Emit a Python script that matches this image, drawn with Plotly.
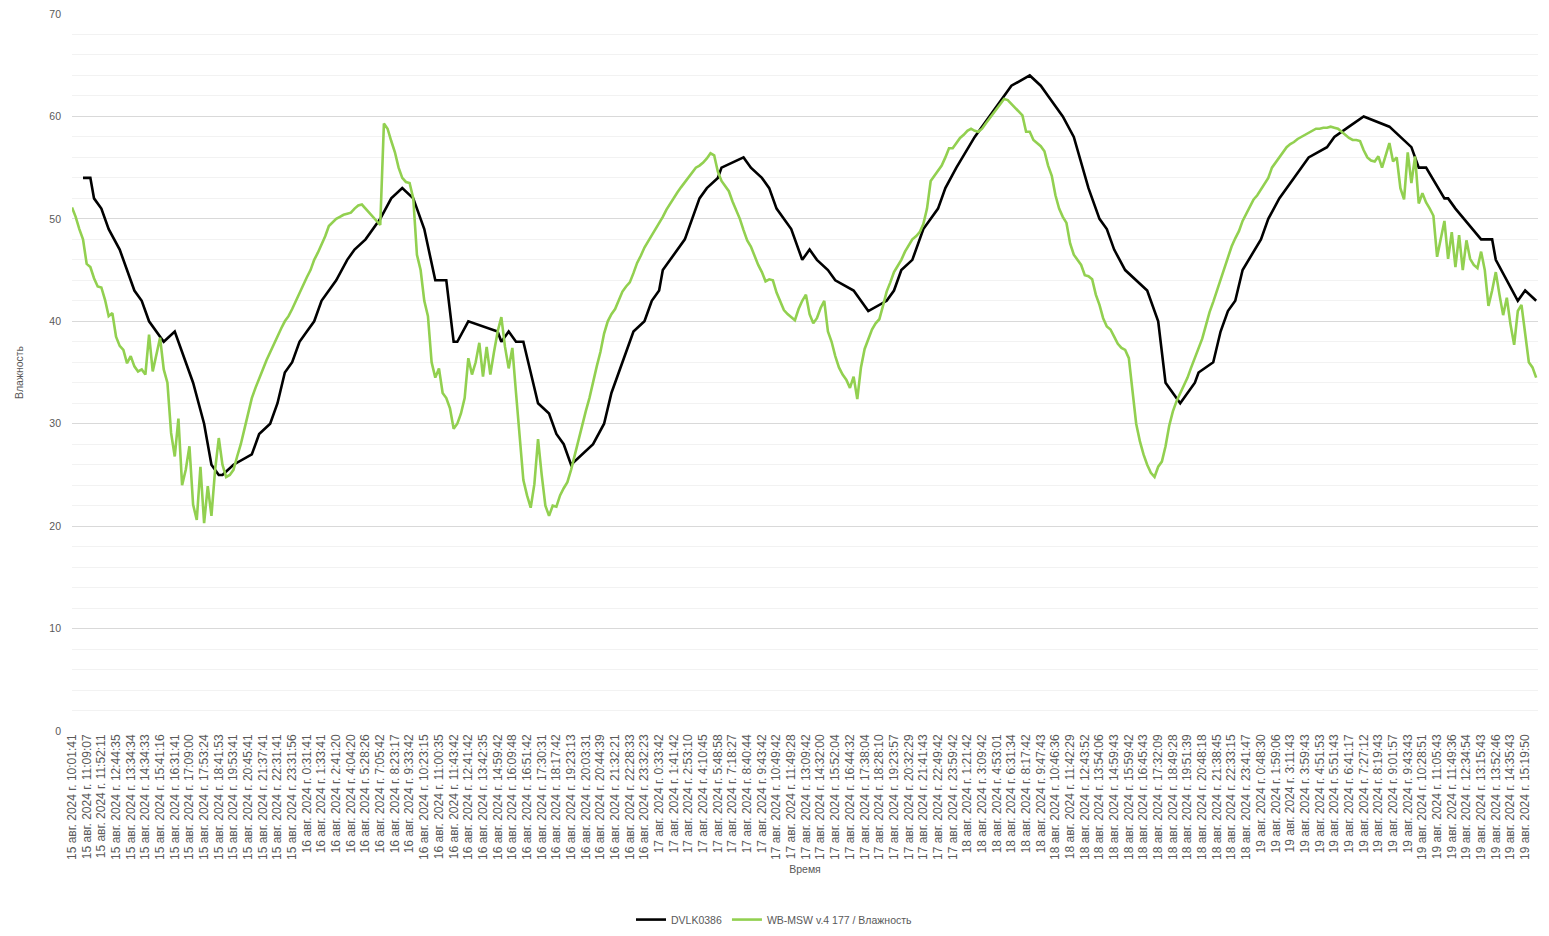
import plotly.graph_objects as go

# подписи оси X (показана каждая 4-я точка)
day15 = ["10:01:41", "11:09:07", "11:52:11", "12:44:35", "13:34:34", "14:34:33", "15:41:16", "16:31:41",
         "17:09:00", "17:53:24", "18:41:53", "19:53:41", "20:45:41", "21:37:41", "22:31:41", "23:31:56"]
day16 = ["0:31:41", "1:33:41", "2:41:20", "4:04:20", "5:28:26", "7:05:42", "8:23:17", "9:33:42", "10:23:15",
         "11:00:35", "11:43:42", "12:41:42", "13:42:35", "14:59:42", "16:09:48", "16:51:42", "17:30:31",
         "18:17:42", "19:23:13", "20:03:31", "20:44:39", "21:32:21", "22:28:33", "23:32:23"]
day17 = ["0:33:42", "1:41:42", "2:53:10", "4:10:45", "5:48:58", "7:18:27", "8:40:44", "9:43:42", "10:49:42",
         "11:49:28", "13:09:42", "14:32:00", "15:52:04", "16:44:32", "17:38:04", "18:28:10", "19:23:57",
         "20:32:29", "21:41:43", "22:49:42", "23:59:42"]
day18 = ["1:21:42", "3:09:42", "4:53:01", "6:31:34", "8:17:42", "9:47:43", "10:46:36", "11:42:29", "12:43:52",
         "13:54:06", "14:59:43", "15:59:42", "16:45:43", "17:32:09", "18:49:28", "19:51:39", "20:48:18",
         "21:38:45", "22:33:15", "23:41:47"]
day19 = ["0:48:30", "1:59:06", "3:11:43", "3:59:43", "4:51:53", "5:51:43", "6:41:17", "7:27:12", "8:19:43",
         "9:01:57", "9:43:43", "10:28:51", "11:05:43", "11:49:36", "12:34:54", "13:15:43", "13:52:46",
         "14:35:43", "15:19:50"]
label_step = 4

# WB-MSW v.4 177 / Влажность, одно значение на каждую точку оси (400 точек)
wb_msw = [
    51.1, 50.2, 49.0, 48.0, 45.6, 45.3, 44.2, 43.4, 43.3, 42.1, 40.5, 40.8, 38.5, 37.6, 37.2, 35.9, 36.6, 35.6, 35.1, 35.3,
    34.8, 38.7, 35.1, 36.6, 38.4, 35.3, 34.0, 29.1, 26.8, 30.5, 24.0, 25.5, 27.8, 22.1, 20.6, 25.8, 20.3, 23.9, 21.0, 25.5,
    28.6, 26.0, 24.8, 25.0, 25.5, 26.8, 28.0, 29.5, 31.0, 32.5, 33.5, 34.5, 35.3, 36.2, 37.0, 37.8, 38.5, 39.3, 40.0, 40.5,
    41.2, 42.0, 42.8, 43.5, 44.3, 45.0, 46.0, 46.7, 47.5, 48.3, 49.3, 49.7, 50.0, 50.2, 50.4, 50.5, 50.6, 51.0, 51.3, 51.4,
    51.0, 50.7, 50.3, 49.8, 49.4, 59.3, 58.8, 57.6, 56.5, 55.0, 54.0, 53.6, 53.5, 52.0, 46.5, 45.0, 42.0, 40.5, 36.0, 34.5,
    35.4, 33.0, 32.5, 31.5, 29.5, 30.0, 31.0, 32.5, 36.4, 34.8, 36.0, 37.9, 34.6, 37.5, 34.8, 37.0, 39.0, 40.4, 37.5, 35.4,
    37.4, 33.0, 29.0, 24.5, 23.0, 21.8, 24.1, 28.5, 25.0, 22.0, 21.0, 22.0, 21.9, 23.0, 23.7, 24.3, 25.5, 27.0, 28.2, 29.8,
    31.2, 32.5, 34.2, 35.6, 37.0, 38.8, 40.0, 40.7, 41.2, 42.0, 42.9, 43.4, 43.8, 44.7, 45.7, 46.4, 47.2, 47.8, 48.4, 49.0,
    49.5, 50.2, 50.9, 51.5, 52.1, 52.6, 53.1, 53.6, 54.1, 54.6, 55.0, 55.2, 55.5, 55.9, 56.4, 56.2, 54.6, 53.7, 53.2, 52.7,
    51.7, 50.8, 50.0, 48.9, 47.9, 47.3, 46.4, 45.5, 44.8, 43.9, 44.1, 44.0, 42.8, 42.0, 41.1, 40.7, 40.4, 40.1, 41.2, 42.0,
    42.6, 40.7, 39.8, 40.3, 41.3, 42.0, 39.0, 38.0, 36.6, 35.5, 34.8, 34.3, 33.5, 34.6, 32.4, 35.5, 37.3, 38.2, 39.2, 39.8,
    40.2, 41.5, 42.9, 43.8, 44.8, 45.4, 46.0, 46.8, 47.4, 48.0, 48.3, 48.7, 49.5, 51.0, 53.7, 54.2, 54.6, 55.2, 56.0, 56.9,
    56.9, 57.4, 57.9, 58.2, 58.6, 58.8, 58.6, 58.5, 58.8, 59.3, 59.8, 60.3, 60.8, 61.3, 61.7, 61.6, 61.2, 60.8, 60.5, 60.1,
    58.5, 58.5, 57.7, 57.4, 57.1, 56.6, 55.2, 54.2, 52.3, 51.0, 50.2, 49.6, 47.6, 46.5, 46.0, 45.5, 44.5, 44.4, 44.1, 42.6,
    41.6, 40.3, 39.5, 39.2, 38.5, 37.8, 37.4, 37.2, 36.4, 33.0, 30.0, 28.3, 27.0, 26.0, 25.2, 24.8, 25.8, 26.3, 27.8, 29.8,
    31.2, 32.2, 33.0, 33.8, 34.5, 35.5, 36.5, 37.3, 38.3, 39.6, 40.9, 41.9, 43.0, 44.1, 45.3, 46.4, 47.3, 48.1, 48.8, 49.8,
    50.5, 51.2, 51.9, 52.3, 52.9, 53.4, 54.0, 55.0, 55.5, 56.0, 56.6, 57.0, 57.3, 57.5, 57.8, 58.0, 58.2, 58.4, 58.6, 58.8,
    58.8, 58.9, 58.9, 59.0, 58.9, 58.8, 58.5, 58.2, 57.9, 57.7, 57.7, 57.6, 56.7, 56.0, 55.7, 55.6, 56.1, 55.0, 56.1, 57.4,
    55.6, 56.0, 53.0, 51.9, 56.5, 53.5, 56.1, 51.5, 52.5, 51.6, 51.0, 50.3, 46.3, 48.1, 49.8, 46.1, 48.7, 45.3, 48.4, 45.0,
    47.9, 46.1, 45.5, 45.2, 46.8, 45.0, 41.5, 43.0, 44.8, 42.6, 40.6, 42.3, 39.7, 37.7, 41.0, 41.6, 39.0, 36.0, 35.5, 34.5,
]

# DVLK0386: редкие показания, между ними пропуски (Excel соединяет линией)
dvlk_pos = [3, 5, 6, 8, 10, 13, 17, 19, 21, 25, 28, 30, 33, 36, 38, 40, 41, 44, 49, 51, 54, 56, 58, 60, 62, 64, 66, 68,
            70, 72, 75, 77, 80, 82, 84, 87, 90, 93, 96, 99, 102, 104, 105, 108, 116, 117, 119, 121, 123, 125, 127,
            130, 132, 134, 136, 142, 145, 147, 150, 153, 156, 158, 160, 161, 167, 169, 171, 173, 176, 177, 183, 185,
            188, 190, 192, 196, 199, 201, 203, 206, 208, 213, 217, 222, 224, 226, 229, 232, 236, 238, 241, 246, 250,
            254, 256, 261, 264, 266, 270, 273, 277, 280, 282, 284, 287, 293, 296, 298, 300, 302, 306, 307, 311, 313,
            315, 317, 319, 324, 326, 329, 333, 335, 337, 342, 344, 348, 352, 359, 362, 365, 367, 369, 374, 375, 377,
            384, 387, 388, 394, 396, 399]
dvlk_vals = [54, 54, 52, 51, 49, 47, 43, 42, 40, 38, 39, 37, 34, 30, 26, 25, 25, 26, 27, 29, 30, 32, 35, 36, 38, 39, 40,
             42, 43, 44, 46, 47, 48, 49, 50, 52, 53, 52, 49, 44, 44, 38, 38, 40, 39, 38, 39, 38, 38, 35, 32, 31, 29, 28,
             26, 28, 30, 33, 36, 39, 40, 42, 43, 45, 48, 50, 52, 53, 54, 55, 56, 55, 54, 53, 51, 49, 46, 47, 46, 45, 44,
             43, 41, 42, 43, 45, 46, 49, 51, 53, 55, 58, 60, 62, 63, 64, 63, 62, 60, 58, 53, 50, 49, 47, 45, 43, 40, 34,
             33, 32, 34, 35, 36, 39, 41, 42, 45, 48, 50, 52, 54, 55, 56, 57, 58, 59, 60, 59, 58, 57, 55, 55, 52, 52, 51,
             48, 48, 46, 42, 43, 42]

tick_text = ([f"15 авг. 2024 г. {t}" for t in day15] + [f"16 авг. 2024 г. {t}" for t in day16]
             + [f"17 авг. 2024 г. {t}" for t in day17] + [f"18 авг. 2024 г. {t}" for t in day18]
             + [f"19 авг. 2024 г. {t}" for t in day19])
tick_vals = [i * label_step for i in range(len(tick_text))]

fig = go.Figure()
fig.add_trace(go.Scatter(x=dvlk_pos, y=dvlk_vals, mode="lines", name="DVLK0386",
                         line=dict(color="#000000", width=2.6)))
fig.add_trace(go.Scatter(x=list(range(len(wb_msw))), y=wb_msw, mode="lines", name="WB-MSW v.4 177 / Влажность",
                         line=dict(color="#92D050", width=2.6)))

grey = "#595959"
# страница браузера добавляет 8px отступа, поэтому фигура чуть меньше окна
fig.update_layout(
    width=1533, height=920,
    margin=dict(l=64, r=3, t=6, b=197, autoexpand=False),
    paper_bgcolor="white", plot_bgcolor="white",
    font=dict(family="Liberation Sans, Arial, sans-serif", size=10, color=grey),
    showlegend=True,
    legend=dict(orientation="h", xref="container", x=0.5, xanchor="center", y=-0.263, yanchor="middle",
                font=dict(size=10.5, color=grey), itemwidth=30),
)
fig.update_xaxes(
    range=[0, 399.5], tickmode="array", tickvals=tick_vals, ticktext=tick_text, tickangle=-90,
    tickfont=dict(size=12, color=grey), showgrid=False, zeroline=False, showline=False, ticks="",
    automargin=False,
    title=dict(text="Время", font=dict(size=10.5, color=grey), standoff=6),
)
fig.update_yaxes(
    range=[0, 70], dtick=10, tickfont=dict(size=10.5, color=grey), ticklabelstandoff=10,
    ticklabeloverflow="allow",
    showgrid=True, gridcolor="#d9d9d9", gridwidth=1, zeroline=False, showline=False, ticks="",
    minor=dict(dtick=2, showgrid=True, gridcolor="#f2f2f2", gridwidth=1),
    automargin=False,
    title=dict(text="Влажность", font=dict(size=10.5, color=grey), standoff=23),
)

fig.write_html("out.html")
